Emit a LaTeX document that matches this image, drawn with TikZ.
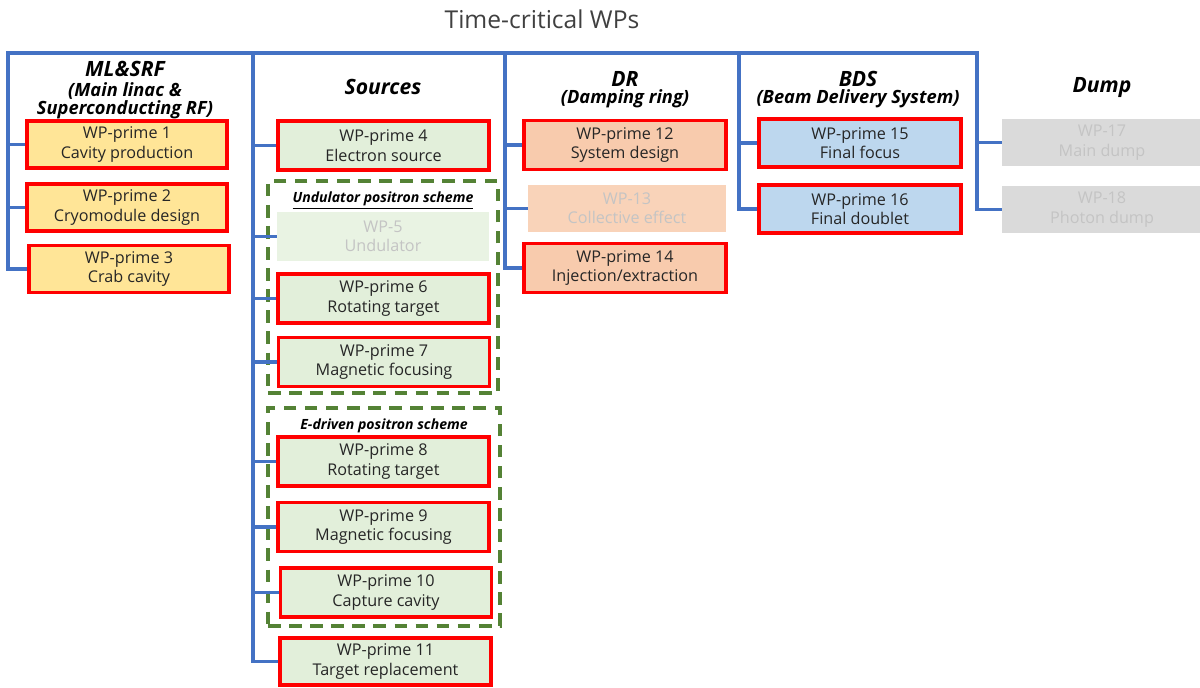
\documentclass[tikz,border=0pt]{standalone}
\usepackage{fontspec}
\setmainfont{Open Sans}
\usetikzlibrary{positioning}

\definecolor{busblue}{HTML}{4472C4}
\definecolor{grpgreen}{HTML}{548235}
\definecolor{mlfill}{HTML}{FFE597}
\definecolor{srcfill}{HTML}{E2EFDA}
\definecolor{drfill}{HTML}{F8CBAD}
\definecolor{bdsfill}{HTML}{BDD7EE}
\definecolor{dumpfill}{HTML}{DADADA}
\definecolor{fadetext}{HTML}{C4C4C4}

\newcommand{\wpfont}{\fontsize{11.5}{13.8}\selectfont}
\newcommand{\headfont}{\fontsize{15}{16}\selectfont\bfseries\itshape}
\newcommand{\subfont}{\fontsize{13}{12.5}\selectfont\bfseries\itshape}

\begin{document}
\begin{tikzpicture}[
    x=0.025cm, y=-0.025cm,
    wp/.style={draw=red, line width=2.7pt, align=center, font=\wpfont,
               inner sep=1pt, text=black!85},
    faded/.style={align=center, font=\wpfont, inner sep=1pt, text=fadetext},
    colml/.style={minimum width=5cm, minimum height=1.175cm},
    colsrc/.style={minimum width=5.275cm, minimum height=1.225cm},
    coldr/.style={minimum width=5.05cm, minimum height=1.225cm},
    colbds/.style={minimum width=5.05cm, minimum height=1.2cm},
    coldump/.style={minimum width=5cm, minimum height=1.175cm},
    grp/.style={draw=grpgreen, line width=2.4pt, dash pattern=on 9pt off 6pt},
    grplabel/.style={font=\fontsize{10}{11}\selectfont\bfseries\itshape, inner sep=1pt},
    bus/.style={draw=busblue, line width=2.4pt}
]
    \useasboundingbox (0,0) rectangle (1200,687);

    \node[font=\fontsize{17.5}{20}\selectfont, text=black!75] (title) at (542,19) {Time-critical WPs};

    % column headings
    \node[font=\headfont] (hml) at (125,69) {ML\&SRF};
    \node[font=\subfont, align=center] (hmlsub) at (125,101) {(Main linac \&\\Superconducting RF)};
    \node[font=\headfont] (hsrc) at (383,87) {Sources};
    \node[font=\headfont] (hdr) at (625,79) {DR};
    \node[font=\subfont] (hdrsub) at (625,99) {(Damping ring)};
    \node[font=\headfont] (hbds) at (858,79) {BDS};
    \node[font=\subfont] (hbdssub) at (858,99) {(Beam Delivery System)};
    \node[font=\headfont] (hdump) at (1102,87) {Dump};

    % positron scheme groups
    \node[grp, minimum width=5.75cm, minimum height=5.3cm] (grpu) at (383,287) {};
    \node[grplabel, below=0.28cm of grpu.north] (grpulab) {\underline{Undulator positron scheme}};
    \node[grp, minimum width=5.8cm, minimum height=5.45cm] (grpe) at (384,517) {};
    \node[grplabel, below=0.28cm of grpe.north] (grpelab) {\underline{E-driven positron scheme}};

    % ML&SRF
    \node[wp, colml, fill=mlfill] (wp1) at (127,144.5) {WP-prime 1\\Cavity production};
    \node[wp, colml, fill=mlfill] (wp2) at (127,207.5) {WP-prime 2\\Cryomodule design};
    \node[wp, colml, fill=mlfill] (wp3) at (129,269) {WP-prime 3\\Crab cavity};

    % Sources
    \node[wp, colsrc, fill=srcfill] (wp4) at (383.5,145.5) {WP-prime 4\\Electron source};
    \node[faded, colsrc, fill=srcfill!75] (wp5) at (383,236.5) {WP-5\\Undulator};
    \node[wp, colsrc, fill=srcfill] (wp6) at (383.5,298.5) {WP-prime 6\\Rotating target};
    \node[wp, colsrc, fill=srcfill] (wp7) at (384,362) {WP-prime 7\\Magnetic focusing};
    \node[wp, colsrc, fill=srcfill] (wp8) at (383.5,461.5) {WP-prime 8\\Rotating target};
    \node[wp, colsrc, fill=srcfill] (wp9) at (383.5,527) {WP-prime 9\\Magnetic focusing};
    \node[wp, colsrc, fill=srcfill] (wp10) at (386,592.5) {WP-prime 10\\Capture cavity};
    \node[wp, colsrc, fill=srcfill, minimum height=1.175cm] (wp11) at (385.5,661.5) {WP-prime 11\\Target replacement};

    % DR
    \node[wp, coldr, fill=drfill] (wp12) at (625,145) {WP-prime 12\\System design};
    \node[faded, coldr, fill=drfill!85, minimum width=4.95cm, minimum height=1.175cm] (wp13) at (627,208.5) {WP-13\\Collective effect};
    \node[wp, coldr, fill=drfill] (wp14) at (625,268) {WP-prime 14\\Injection/extraction};

    % BDS
    \node[wp, colbds, fill=bdsfill] (wp15) at (860,143) {WP-prime 15\\Final focus};
    \node[wp, colbds, fill=bdsfill] (wp16) at (860,209) {WP-prime 16\\Final doublet};

    % Dump
    \node[faded, coldump, fill=dumpfill] (wp17) at (1102,142.5) {WP-17\\Main dump};
    \node[faded, coldump, fill=dumpfill] (wp18) at (1102,209.5) {WP-18\\Photon dump};

    % bus lines
    \coordinate (t1) at (8,53);
    \coordinate (t2) at (253,53);
    \coordinate (t3) at (505,53);
    \coordinate (t4) at (739,53);
    \coordinate (t5) at (977,53);

    \draw[bus] (wp3.west) -| (t1) -- (t5) |- (wp18.west);
    \draw[bus] (t1) |- (wp1.west);
    \draw[bus] (t1) |- (wp2.west);

    \draw[bus] (t2) |- (wp11.west);
    \foreach \n in {wp4,wp5,wp6,wp7,wp8,wp9,wp10}
        \draw[bus] (t2) |- (\n.west);

    \draw[bus] (t3) |- (wp14.west);
    \draw[bus] (t3) |- (wp12.west);
    \draw[bus] (t3) |- (wp13.west);

    \draw[bus] (t4) |- (wp16.west);
    \draw[bus] (t4) |- (wp15.west);

    \draw[bus] (t5) |- (wp17.west);
\end{tikzpicture}
\end{document}
